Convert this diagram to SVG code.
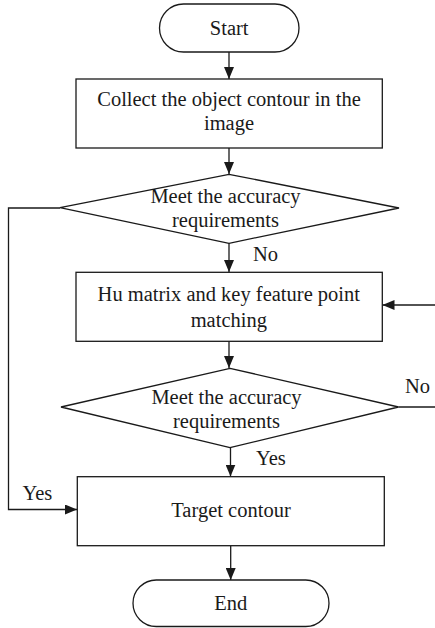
<svg xmlns="http://www.w3.org/2000/svg" width="435" height="628" viewBox="0 0 435 628">
  <style>
    .shape { fill: #ffffff; stroke: #1a1a1a; stroke-width: 1.3; }
    .conn { fill: none; stroke: #1a1a1a; stroke-width: 1.3; }
    .c { text-anchor: middle; }
  </style>
  <defs>
    <marker id="arrow" markerUnits="userSpaceOnUse" markerWidth="12" markerHeight="10" refX="12" refY="5" orient="auto">
      <path d="M0,0 L12,5 L0,10 z" fill="#1a1a1a"/>
    </marker>
  </defs>
  <rect width="435" height="628" fill="#ffffff"/>

  <g font-family="Liberation Serif, Times New Roman, DejaVu Serif, serif" font-size="20.5" fill="#1a1a1a">
  <g id="connectors">
    <line class="conn" x1="229" y1="52" x2="229" y2="79" marker-end="url(#arrow)"/>
    <line class="conn" x1="229" y1="148" x2="229" y2="174" marker-end="url(#arrow)"/>
    <line class="conn" x1="229" y1="243" x2="229" y2="272" marker-end="url(#arrow)"/>
    <text x="253" y="261">No</text>
    <polyline class="conn" points="60,208 8.5,208 8.5,509.5 77,509.5" marker-end="url(#arrow)"/>
    <text x="22.5" y="500">Yes</text>
    <line class="conn" x1="229" y1="341" x2="229" y2="368" marker-end="url(#arrow)"/>
    <line class="conn" x1="398.5" y1="407" x2="435" y2="407"/>
    <text x="405" y="393">No</text>
    <line class="conn" x1="435" y1="305" x2="382.5" y2="305" marker-end="url(#arrow)"/>
    <line class="conn" x1="230.5" y1="448" x2="230.5" y2="476.5" marker-end="url(#arrow)"/>
    <text x="256" y="465">Yes</text>
    <line class="conn" x1="230.7" y1="546" x2="230.7" y2="580" marker-end="url(#arrow)"/>
  </g>

  <g id="start">
    <rect class="shape" x="159.5" y="4" width="139.5" height="48" rx="24" ry="24"/>
    <text class="c" x="229.2" y="35">Start</text>
  </g>

  <g id="collect">
    <rect class="shape" x="76" y="79" width="306.3" height="69"/>
    <text class="c" x="229" y="106">Collect the object contour in the</text>
    <text class="c" x="229" y="130">image</text>
  </g>

  <g id="decision1">
    <polygon class="shape" points="229,174.3 399,208 229,243.3 60,207.7"/>
    <text class="c" x="225.5" y="203">Meet the accuracy</text>
    <text class="c" x="225.5" y="227">requirements</text>
  </g>

  <g id="hu-matching">
    <rect class="shape" x="76" y="272.3" width="306.3" height="69"/>
    <text class="c" x="228.8" y="301">Hu matrix and key feature point</text>
    <text class="c" x="228.8" y="326.5">matching</text>
  </g>

  <g id="decision2">
    <polygon class="shape" points="230,368.3 398.5,407 230,447.7 61,407"/>
    <text class="c" x="226.5" y="404.3">Meet the accuracy</text>
    <text class="c" x="226.5" y="427.8">requirements</text>
  </g>

  <g id="target">
    <rect class="shape" x="77.3" y="476.7" width="307" height="69"/>
    <text class="c" x="231" y="516.7">Target contour</text>
  </g>

  <g id="end">
    <rect class="shape" x="133" y="580" width="196" height="46.5" rx="23.25" ry="23.25"/>
    <text class="c" x="230.8" y="610">End</text>
  </g>
  </g>
</svg>
